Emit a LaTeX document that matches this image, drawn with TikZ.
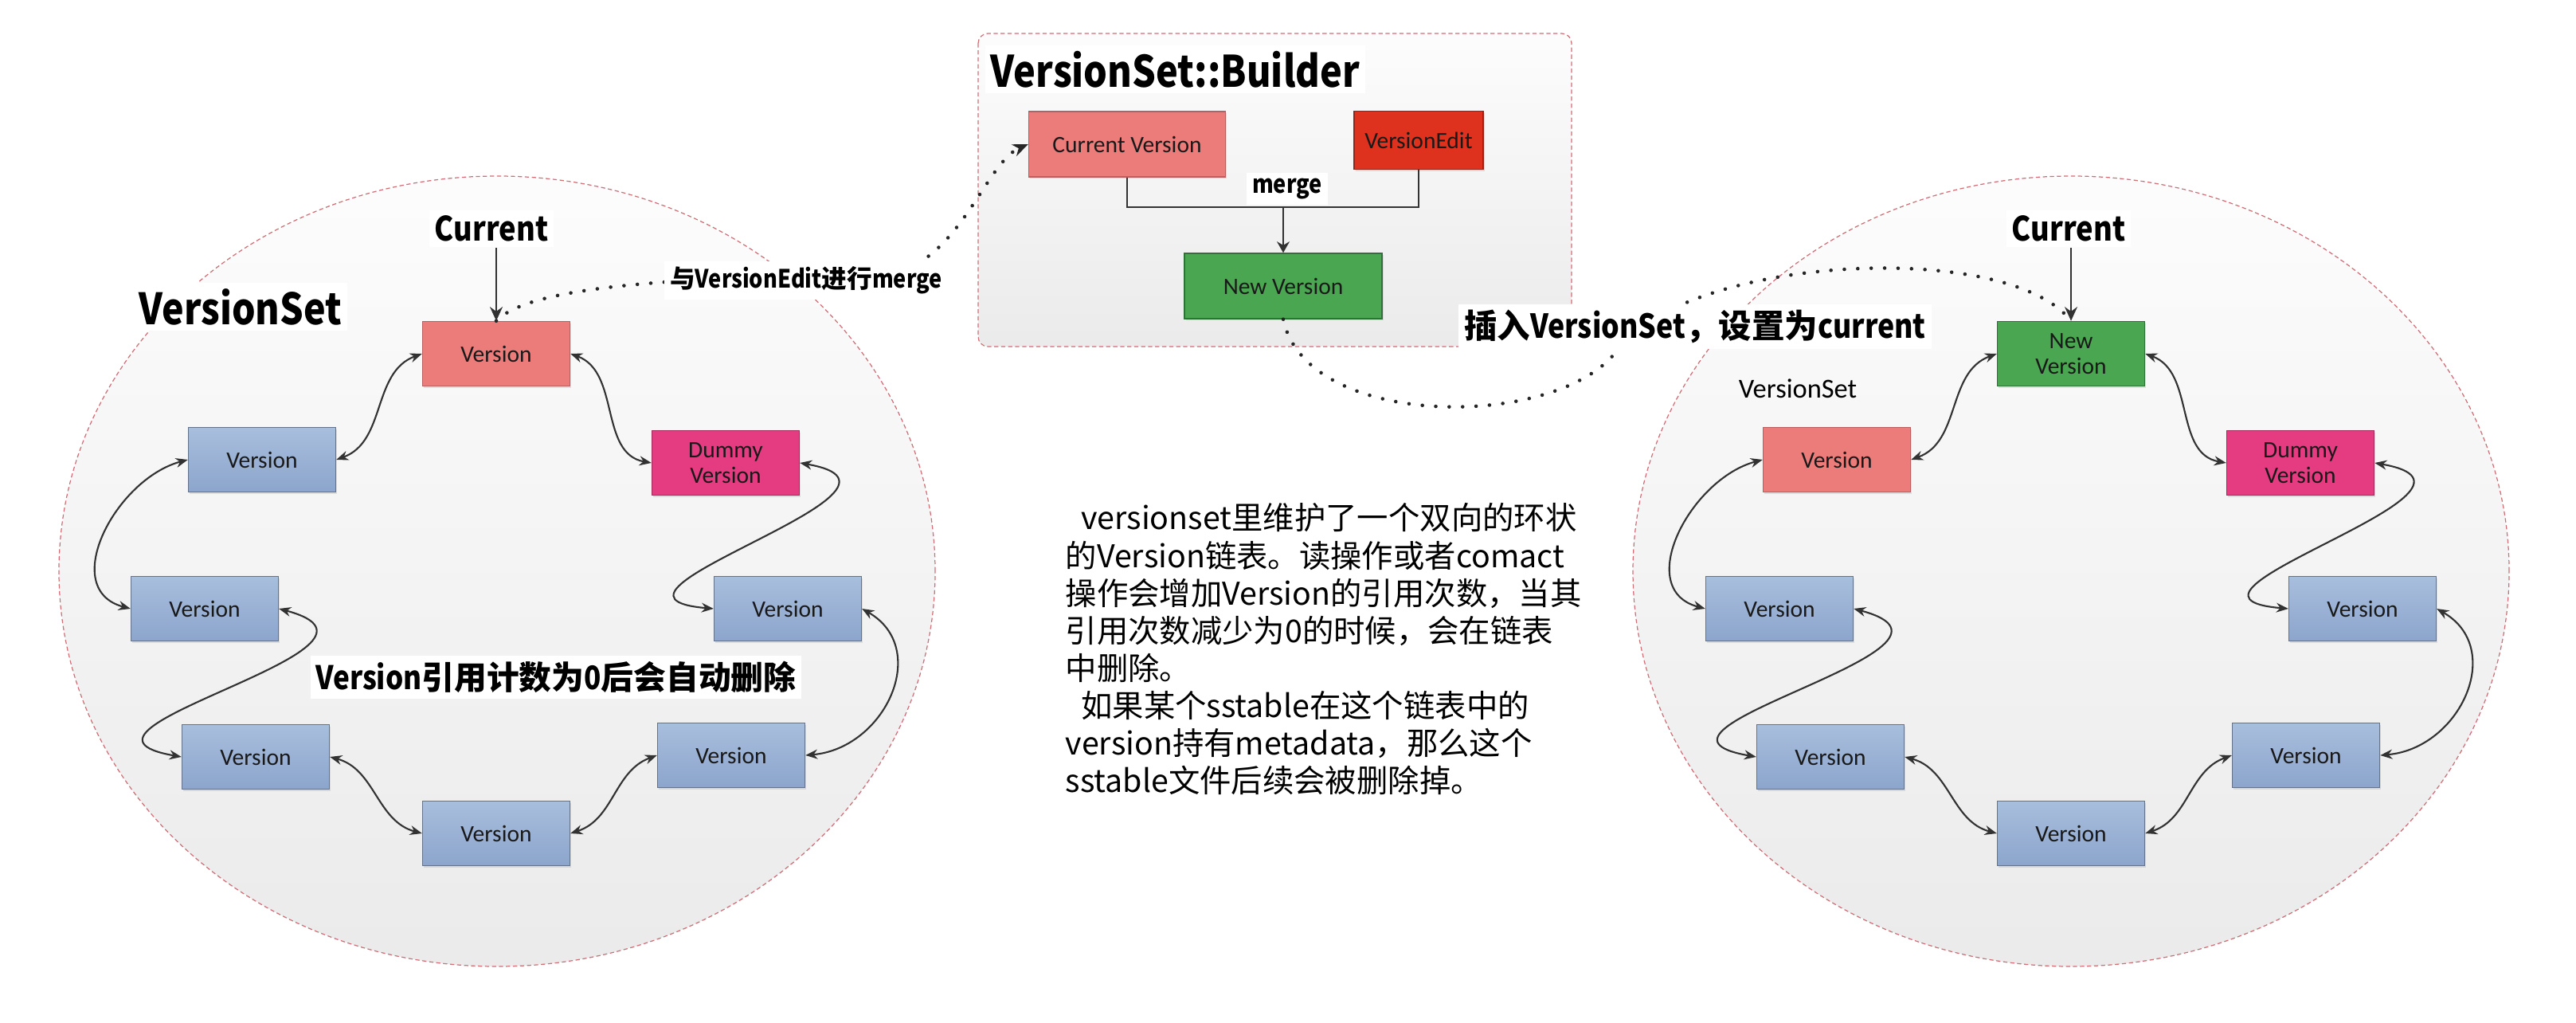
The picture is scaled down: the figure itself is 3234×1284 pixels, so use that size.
\documentclass[tikz,border=0pt]{standalone}
\usepackage{fontspec}
\setmainfont{Carlito}
\newfontfamily\cjk{Noto Sans CJK SC}
\newfontfamily\cjkn{Noto Sans CJK SC}[FakeStretch=0.86]
\usetikzlibrary{arrows.meta,shadows}

\definecolor{vblueT}{RGB}{168,190,221}
\definecolor{vblueB}{RGB}{140,165,204}
\definecolor{vblueD}{RGB}{100,115,140}
\definecolor{vred}{RGB}{236,124,122}
\definecolor{vredD}{RGB}{185,95,95}
\definecolor{vpink}{RGB}{229,59,128}
\definecolor{vpinkD}{RGB}{165,40,90}
\definecolor{vedit}{RGB}{222,50,30}
\definecolor{veditD}{RGB}{150,35,25}
\definecolor{vgreen}{RGB}{74,166,80}
\definecolor{vgreenD}{RGB}{45,115,55}
\definecolor{setline}{RGB}{210,110,120}
\definecolor{linkc}{RGB}{50,50,50}

\tikzset{
  box/.style={rectangle, draw, line width=0.4pt, minimum width=18.5mm, minimum height=8.1mm,
    inner sep=1pt, align=center, text=black!90, font=\fontsize{8.4}{9.2}\selectfont,
    drop shadow={opacity=0.2, shadow xshift=0.5pt, shadow yshift=-0.6pt}},
  vbox/.style={box, draw=vblueD, top color=vblueT, bottom color=vblueB},
  rbox/.style={box, draw=vredD, fill=vred},
  dbox/.style={box, draw=vpinkD, fill=vpink},
  ebox/.style={box, draw=veditD, fill=vedit},
  gbox/.style={box, draw=vgreenD, fill=vgreen},
  link/.style={draw=linkc, line width=0.6pt,
    {Stealth[length=4.3pt,width=3.4pt]}-{Stealth[length=4.3pt,width=3.4pt]}},
  feed/.style={draw=linkc, line width=0.8pt, -{Stealth[length=5pt,width=4.5pt]}},
  dots/.style={draw=black!85, line width=1.3pt, line cap=round, dash pattern=on 0pt off 4.8pt},
  setbg/.style={draw=setline, line width=0.35pt, dash pattern=on 1.5pt off 1pt,
    top color=black!1, bottom color=black!8},
  tag/.style={fill=white, inner sep=2pt},
  hb/.style={font=\cjk\bfseries\fontsize{#1}{#1}\selectfont},
  hn/.style={font=\cjkn\bfseries\fontsize{#1}{#1}\selectfont}
}

\begin{document}
\begin{tikzpicture}[x=0.1mm, y=0.1mm]
  \useasboundingbox (0,0) rectangle (3234,-1284);

  % background sets and builder
  \draw[setbg] (624,-717) ellipse [x radius=550, y radius=496];
  \draw[setbg] (2600,-717) ellipse [x radius=550, y radius=496];
  \draw[setbg, rounded corners=3.5pt] (1228,-42) rectangle (1973,-435);

  % old versionset
  \node[rbox] (l0) at (623,-444) {Version};
  \node[vbox] (l1) at (329,-577) {Version};
  \node[vbox] (l2) at (257,-764) {Version};
  \node[vbox] (l3) at (321,-950) {Version};
  \node[vbox] (l4) at (623,-1046) {Version};
  \node[vbox] (l5) at (918,-948) {Version};
  \node[vbox] (l6) at (989,-764) {Version};
  \node[dbox] (l7) at (911,-581) {Dummy\\Version};
  \draw[link] (l0.west) to[out=200,in=20] (l1.east);
  \draw[link] (l1.west) to[out=195,in=165,looseness=1.2] (l2.west);
  \draw[link] (l2.east) to[out=-15,in=170,looseness=2.2] (l3.west);
  \draw[link] (l3.east) to[out=-15,in=165] (l4.west);
  \draw[link] (l4.east) to[out=18,in=200] (l5.west);
  \draw[link] (l5.east) to[out=5,in=-30,looseness=1.3] (l6.east);
  \draw[link] (l6.west) to[out=175,in=-10,looseness=2.3] (l7.east);
  \draw[link] (l7.west) to[out=170,in=-20] (l0.east);

  % new versionset
  \node[gbox] (r0) at (2600,-444) {New\\Version};
  \node[rbox] (r1) at (2306,-577) {Version};
  \node[vbox] (r2) at (2234,-764) {Version};
  \node[vbox] (r3) at (2298,-950) {Version};
  \node[vbox] (r4) at (2600,-1046) {Version};
  \node[vbox] (r5) at (2895,-948) {Version};
  \node[vbox] (r6) at (2966,-764) {Version};
  \node[dbox] (r7) at (2888,-581) {Dummy\\Version};
  \draw[link] (r0.west) to[out=200,in=20] (r1.east);
  \draw[link] (r1.west) to[out=195,in=165,looseness=1.2] (r2.west);
  \draw[link] (r2.east) to[out=-15,in=170,looseness=2.2] (r3.west);
  \draw[link] (r3.east) to[out=-15,in=165] (r4.west);
  \draw[link] (r4.east) to[out=18,in=200] (r5.west);
  \draw[link] (r5.east) to[out=5,in=-30,looseness=1.3] (r6.east);
  \draw[link] (r6.west) to[out=175,in=-10,looseness=2.3] (r7.east);
  \draw[link] (r7.west) to[out=170,in=-20] (r0.east);

  % builder
  \node[rbox, minimum width=24.7mm, minimum height=8.2mm] (cv) at (1415,-181) {Current Version};
  \node[ebox, minimum width=16.2mm, minimum height=7.3mm] (ve) at (1781,-176) {VersionEdit};
  \node[gbox, minimum width=24.8mm, minimum height=8.2mm] (nv) at (1611,-359) {New Version};
  \coordinate (mg) at (1611,-260);
  \draw[linkc, line width=0.6pt] (cv.south) |- (mg) -| (ve.south);
  \draw[linkc, line width=0.6pt, -{Stealth[length=4pt,width=4.5pt]}] (mg) -- (nv.north);

  % dotted flows
  \draw[dots, -{Stealth[length=5.5pt,width=4.5pt]}] (l0.north) .. controls (660,-365) and (800,-348) .. (1100,-345)
    .. controls (1200,-345) and (1235,-205) .. (cv.west);
  \draw[dots] (nv.south) .. controls (1640,-540) and (1955,-540) .. (2030,-440)
    .. controls (2120,-320) and (2520,-300) .. (r0.north);

  % labels
  \node[tag, hn=12] (lcur) at (617,-287) {Current};
  \node[tag, hn=12] (rcur) at (2597,-287) {Current};
  \draw[feed] (lcur.south -| l0.north) -- (l0.north);
  \draw[feed] (rcur.south -| r0.north) -- (r0.north);
  \node[tag, hn=15.4] (lset) at (302,-385) {VersionSet};
  \node[font=\fontsize{9.8}{11}\selectfont] (rset) at (2257,-488) {VersionSet};
  \node[tag, hb=11.6] (gone) at (698,-850) {{\cjkn Version}引用计数为{\cjkn 0}后会自动删除};
  \node[tag, hb=9] (mtag) at (1012,-352) {与{\cjkn VersionEdit}进行{\cjkn merge}};
  \node[tag, hn=9] (mg2) at (1616,-237) {merge};
  \node[tag, hb=11.8] (itag) at (2128,-410) {插入{\cjkn VersionSet}，设置为{\cjkn current}};
  \node[tag, hn=15.5, anchor=west] (btitle) at (1236,-87) {VersionSet::Builder};
  \node[anchor=north west, inner sep=0pt, align=left, font=\cjk\fontsize{11.2}{13.4}\selectfont] (note) at (1337,-631)
    {\hspace*{0.5em}versionset里维护了一个双向的环状\\的Version链表。读操作或者comact\\操作会增加Version的引用次数，当其\\引用次数减少为0的时候，会在链表\\中删除。\\\hspace*{0.5em}如果某个sstable在这个链表中的\\version持有metadata，那么这个\\sstable文件后续会被删除掉。};
\end{tikzpicture}
\end{document}
